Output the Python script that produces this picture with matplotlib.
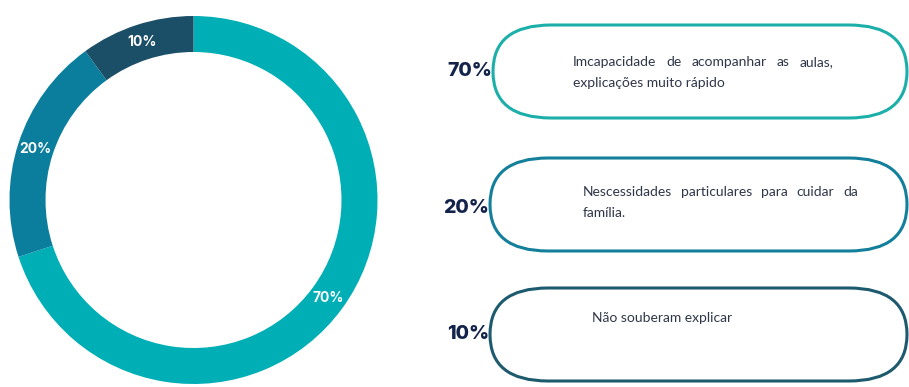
import matplotlib
matplotlib.use("Agg")
import matplotlib.pyplot as plt
from matplotlib.patches import FancyBboxPatch
import numpy as np

# data
pcts = [70, 20, 10]
pct_labels = ["70%", "20%", "10%"]
colors = ["#00AFB5", "#0B7E9E", "#1B4F68"]
box_colors = ["#1CAFAA", "#137F9B", "#1D5A6E"]
descriptions = [
    ["Imcapacidade de acompanhar as aulas,", "explicações muito rápido"],
    ["Nescessidades particulares para cuidar da", "família."],
    ["Não souberam explicar"],
]
justify = [[True, False], [True, False], [False]]

W, H = 909, 387
fig = plt.figure(figsize=(W / 100, H / 100), dpi=100)
ax = fig.add_axes([0, 0, 1, 1])

def py(y):  # pixel y (from top) -> data y
    return H - y

# donut
cx, cy, r, ring = 193.5, 200, 184, 36
wedges, _ = ax.pie(pcts, colors=colors, startangle=90, counterclock=False,
                   center=(cx, py(cy)), radius=r,
                   wedgeprops=dict(width=ring, linewidth=0))
start = 90
for val, lab in zip(pcts, pct_labels):
    mid = np.deg2rad(start - val * 3.6 / 2)
    start -= val * 3.6
    rr = r - ring / 2
    ax.text(cx + rr * np.cos(mid), py(cy) + rr * np.sin(mid), lab,
            ha="center", va="center", color="white", fontsize=10,
            fontweight="bold", family="Inter")

ax.set_xlim(0, W)
ax.set_ylim(0, H)
ax.set_aspect("equal")
ax.axis("off")

# pill boxes on the right
box_top = [25, 158, 288]
box_left = [493, 490, 490]
box_h = 93
box_right = 907
label_y = [71, 208, 334]
text_x = [573, 583, 592]
text_y = [[62, 83], [192, 213], [318]]
line_end = [833, 858, None]
asp = 0.8

fig.canvas.draw()
renderer = fig.canvas.get_renderer()

for i in range(3):
    b = FancyBboxPatch((box_left[i], py(box_top[i] + box_h)),
                       box_right - box_left[i], box_h,
                       boxstyle="round,pad=0,rounding_size=%f" % (box_h / 2 / asp),
                       mutation_aspect=asp,
                       fc="white", ec=box_colors[i], lw=2.2, zorder=2)
    ax.add_patch(b)
    ax.text(box_left[i] - 1, py(label_y[i]), pct_labels[i], ha="right",
            va="center", fontsize=14, fontweight="heavy", color="#13234A",
            family="Inter", zorder=3)
    for j, line in enumerate(descriptions[i]):
        y = py(text_y[i][j])
        kw = dict(va="center", fontsize=10, color="#2E3648", family="Lato",
                  zorder=3)
        if justify[i][j]:
            words = line.split()
            objs = [ax.text(0, y, w, ha="left", **kw) for w in words]
            widths = [o.get_window_extent(renderer).width for o in objs]
            gap = (line_end[i] - text_x[i] - sum(widths)) / (len(words) - 1)
            x = text_x[i]
            for o, w in zip(objs, widths):
                o.set_x(x)
                x += w + gap
        else:
            ax.text(text_x[i], y, line, ha="left", **kw)

fig.savefig("out.png", dpi=100, facecolor="white")
